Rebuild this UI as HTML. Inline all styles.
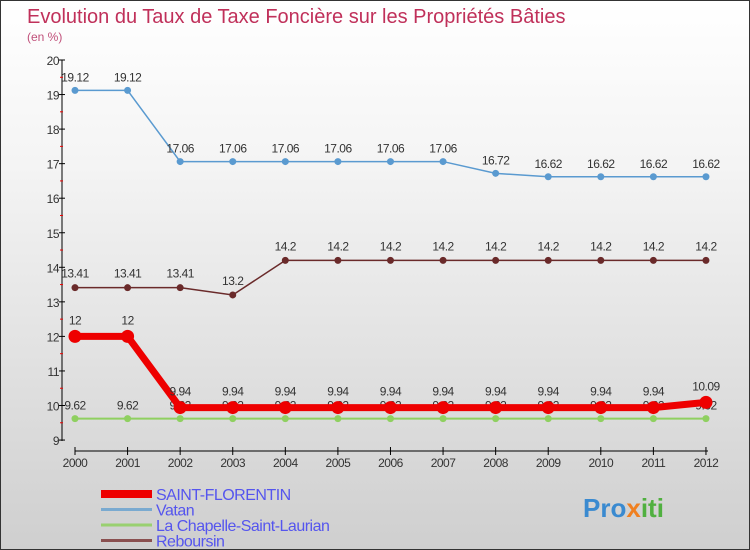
<!DOCTYPE html>
<html><head><meta charset="utf-8"><style>
body{margin:0}
#c{width:748px;height:548px;border:1px solid #333;background:linear-gradient(#ffffff,#f4f4f4 30%,#cfcfcf);position:relative;overflow:hidden;font-family:"Liberation Sans","DejaVu Sans",sans-serif}
</style></head><body>
<div id="c">
<svg id="s" width="748" height="548"></svg>
</div>
<script>
const years=["2000","2001","2002","2003","2004","2005","2006","2007","2008","2009","2010","2011","2012"];
const saint=[12,12,9.94,9.94,9.94,9.94,9.94,9.94,9.94,9.94,9.94,9.94,10.09];
const vatan=[19.12,19.12,17.06,17.06,17.06,17.06,17.06,17.06,16.72,16.62,16.62,16.62,16.62];
const chap=[9.62,9.62,9.62,9.62,9.62,9.62,9.62,9.62,9.62,9.62,9.62,9.62,9.62];
const rebo=[13.41,13.41,13.41,13.2,14.2,14.2,14.2,14.2,14.2,14.2,14.2,14.2,14.2];
const yTicks=[9,10,11,12,13,14,15,16,17,18,19,20];
const NS="http://www.w3.org/2000/svg",s=document.getElementById('s');
const X=i=>74+i*52.58, Y=v=>59+(20-v)*34.55;
function el(t,a,p){const e=document.createElementNS(NS,t);for(const k in a)e.setAttribute(k,a[k]);(p||s).appendChild(e);return e;}
function txt(x,y,str,a){const e=el('text',Object.assign({x:x,y:y},a));e.textContent=str;return e;}
let t=txt(26,22,"Evolution du Taux de Taxe Foncière sur les Propriétés Bâties",{fill:"#c0305a","font-size":20});

t=txt(26,40,"(en %)",{fill:"#c0507a","font-size":12});

let a=el('line',{x1:61,y1:59,x2:61,y2:440,stroke:"#000"});

yTicks.forEach(v=>{el('line',{x1:58,x2:64,y1:Y(v),y2:Y(v),stroke:"#000"});
 if(v<20)el('line',{x1:59,x2:62,y1:Y(v+0.5),y2:Y(v+0.5),stroke:"#e00"});
 const l=txt(58,Y(v)+5,String(v),{"text-anchor":"end","font-size":12,fill:"#333","letter-spacing":"-0.5"});
 });
a=el('line',{x1:74,y1:450,x2:707,y2:450,stroke:"#000"});

years.forEach((y,i)=>{el('line',{x1:X(i),x2:X(i),y1:446,y2:454,stroke:"#000"});
 const l=txt(X(i),466,y,{"text-anchor":"middle","font-size":12,fill:"#333","letter-spacing":"-0.5"});
 });
function series(d,col,w,r,name,dy){
 const g=el('g',{});
 el('polyline',{points:d.map((v,i)=>X(i)+","+Y(v)).join(" "),fill:"none",stroke:col,"stroke-width":w},g);
 d.forEach((v,i)=>{const c=el('circle',{cx:X(i),cy:Y(v),r:r,fill:col},g);
  
  txt(X(i),Y(v)+dy,String(v),{"text-anchor":"middle","font-size":12,fill:"#333","letter-spacing":"-0.5"},g);});
}
series(vatan,"#5a9ad0",1.5,3.5,"series-vatan",-9);
series(rebo,"#6a2a2a",1.5,3.5,"series-reboursin",-10);
series(chap,"#8fd060",2,3.5,"series-la-chapelle",-9);
series(saint,"#ee0000",7,6.5,"series-saint-florentin",-12);
const leg=[["SAINT-FLORENTIN","#ee0000",8],["Vatan","#7aaad0",3],["La Chapelle-Saint-Laurian","#99d070",3],["Reboursin","#8a5050",3]];
leg.forEach((l,i)=>{const y=493+i*15.5;const g=el('g',{});
 el('line',{x1:100,x2:151,y1:y,y2:y,stroke:l[1],"stroke-width":l[2]},g);
 txt(155,y+6,l[0],{"font-size":16,fill:"#5555ee","letter-spacing":"-0.5"},g);});
const p=el('text',{x:582,y:516,"font-size":26,"font-weight":"bold"});

[["Pro","#3a8ad0"],["x","#f08020"],["iti","#50b040"]].forEach(q=>{const ts=el('tspan',{fill:q[1]},p);ts.textContent=q[0];});
</script>
</body></html>
